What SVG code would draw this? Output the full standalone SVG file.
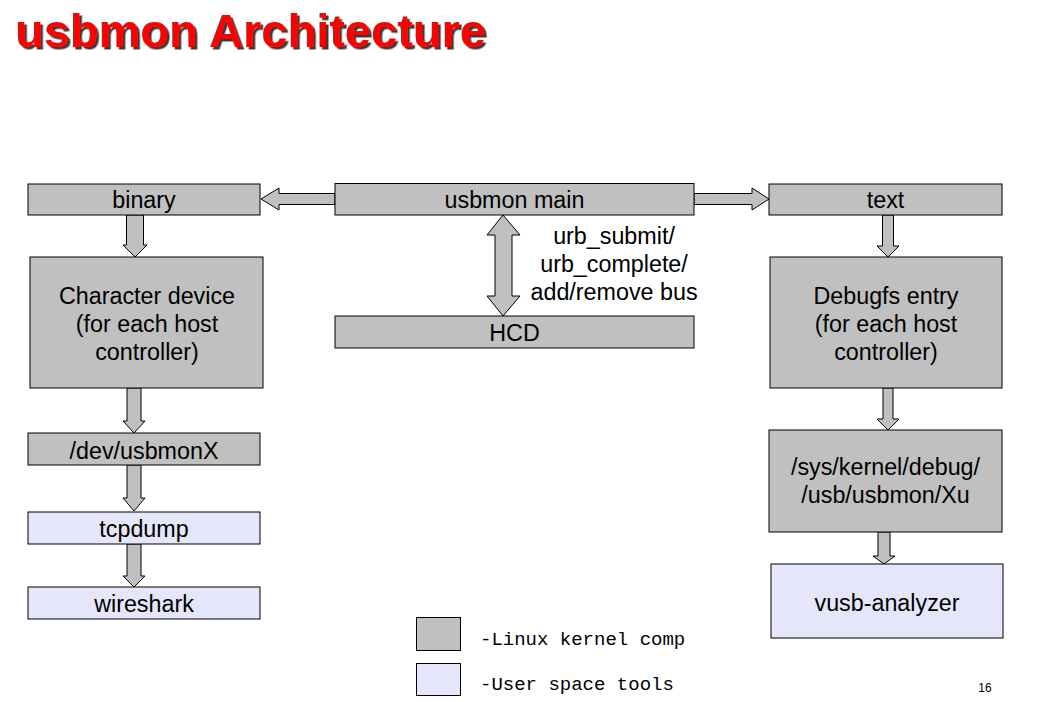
<svg xmlns="http://www.w3.org/2000/svg" width="1039" height="702" viewBox="0 0 1039 702">
<style>
.k{fill:#C0C0C0;stroke:#000;stroke-width:1}
.u{fill:#E6E6FA;stroke:#000;stroke-width:1}
.a{fill:#C0C0C0;stroke:#000;stroke-width:1;stroke-linejoin:miter}
.t{font-family:"Liberation Sans",Arial,sans-serif;font-size:23.3px;fill:#000;text-anchor:middle}
.m{font-family:"Liberation Mono","Courier New",monospace;font-size:19px;fill:#000}
.ti{font-family:"Liberation Sans",Arial,sans-serif;font-size:47px;font-weight:bold;fill:#FF0000}
</style>
<defs>
<filter id="sh" x="-5%" y="-20%" width="110%" height="150%">
<feDropShadow dx="2.5" dy="2.5" stdDeviation="0" flood-color="#3a3a3a" flood-opacity="1"/>
</filter>
</defs>
<rect width="1039" height="702" fill="#fff"/>
<g id="title">
<text class="ti" x="15" y="47" filter="url(#sh)">usbmon Architecture</text>
</g>
<g id="connectors">
<polygon class="a" points="335,193.5 279,193.5 279,188 261,199 279,210 279,204.5 335,204.5"/>
<polygon class="a" points="694,193.5 752,193.5 752,188 769,199 752,210 752,204.5 694,204.5"/>
<polygon class="a" points="503,215 520,235 512,235 512,296 520,296 503,316 487,296 495,296 495,235 487,235"/>
<polygon class="a" points="126.5,215 143.5,215 143.5,245 147,245 135,257 123,245 126.5,245"/>
<polygon class="a" points="127,388 141,388 141,421 145,421 134,433 123,421 127,421"/>
<polygon class="a" points="127,465 141,465 141,498 145,498 134,511 123,498 127,498"/>
<polygon class="a" points="127,544 141,544 141,576 145,576 134,587 123,576 127,576"/>
<polygon class="a" points="882.5,215 893.5,215 893.5,246 899,246 888,257 877,246 882.5,246"/>
<polygon class="a" points="883,388 893,388 893,419 899,419 888,430 877,419 883,419"/>
<polygon class="a" points="878,532 890,532 890,556 895,556 884,564 873,556 878,556"/>
</g>
<g id="usbmon-main"><rect class="k" x="335" y="183.5" width="359" height="31.5"/><text class="t" x="514.5" y="208">usbmon main</text></g>
<g id="binary"><rect class="k" x="28" y="184" width="232" height="31"/><text class="t" x="144" y="208">binary</text></g>
<g id="text"><rect class="k" x="769" y="184" width="233" height="31"/><text class="t" x="885.5" y="208">text</text></g>
<g id="hcd"><rect class="k" x="335" y="316" width="359" height="32"/><text class="t" x="514.5" y="341">HCD</text></g>
<g id="label-urb"><text class="t" x="614" y="244">urb_submit/</text><text class="t" x="614" y="272">urb_complete/</text><text class="t" x="614" y="300">add/remove bus</text></g>
<g id="char-device"><rect class="k" x="30" y="257" width="233" height="131"/><text class="t" x="147" y="304">Character device</text><text class="t" x="147" y="332">(for each host</text><text class="t" x="147" y="360">controller)</text></g>
<g id="debugfs"><rect class="k" x="770" y="257" width="232" height="131"/><text class="t" x="886" y="304">Debugfs entry</text><text class="t" x="886" y="332">(for each host</text><text class="t" x="886" y="360">controller)</text></g>
<g id="dev-usbmonx"><rect class="k" x="28" y="433" width="232" height="32"/><text class="t" x="144" y="459">/dev/usbmonX</text></g>
<g id="tcpdump"><rect class="u" x="28" y="512" width="232" height="32"/><text class="t" x="144" y="537">tcpdump</text></g>
<g id="wireshark"><rect class="u" x="28" y="587" width="232" height="32"/><text class="t" x="144" y="612">wireshark</text></g>
<g id="sys-kernel"><rect class="k" x="769" y="430" width="233" height="102"/><text class="t" x="885.5" y="475">/sys/kernel/debug/</text><text class="t" x="885.5" y="503">/usb/usbmon/Xu</text></g>
<g id="vusb-analyzer"><rect class="u" x="771" y="564" width="232" height="74"/><text class="t" x="887" y="611">vusb-analyzer</text></g>
<g id="legend">
<rect class="k" x="416.5" y="617.5" width="44" height="33"/>
<rect class="u" x="416.5" y="663.5" width="44" height="32"/>
<text class="m" x="480" y="645">-Linux kernel comp</text>
<text class="m" x="480" y="690">-User space tools</text>
</g>
<text x="985" y="692" font-family="'Liberation Sans',Arial,sans-serif" font-size="12" text-anchor="middle">16</text>
</svg>
